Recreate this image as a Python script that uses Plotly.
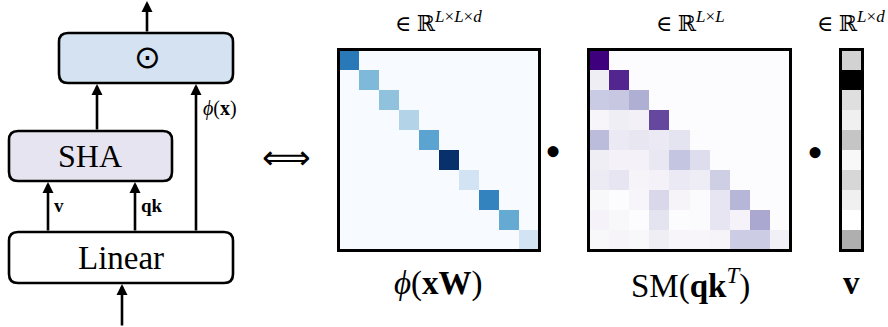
import plotly.graph_objects as go
import plotly.colors as pc

# ---------------- data ----------------
phi_diag = [0.72, 0.45, 0.41, 0.31, 0.55, 1.0, 0.19, 0.68, 0.52, 0.19]
attn_rows = [
    [1.00],
    [0.12, 0.88],
    [0.32, 0.33, 0.43],
    [0.05, 0.12, 0.09, 0.78],
    [0.38, 0.15, 0.17, 0.15, 0.19],
    [0.12, 0.08, 0.08, 0.16, 0.34, 0.23],
    [0.14, 0.18, 0.06, 0.08, 0.15, 0.13, 0.30],
    [0.04, 0.00, 0.05, 0.26, 0.06, 0.01, 0.18, 0.40],
    [0.07, 0.04, 0.00, 0.19, 0.00, 0.01, 0.18, 0.07, 0.45],
    [0.04, 0.06, 0.04, 0.12, 0.05, 0.05, 0.06, 0.31, 0.31, 0.10],
]
v_vals = [0.28, 1.0, 0.22, 0.125, 0.34, 0.06, 0.26, 0.125, 0.0, 0.42]

SUP = '<sup><span style="font-size:17px">{}</span></sup>'
top_labels = ["∈ ℝ" + SUP.format("<i>L</i>×<i>L</i>×<i>d</i>"),
              "∈ ℝ" + SUP.format("<i>L</i>×<i>L</i>"),
              "∈ ℝ" + SUP.format("<i>L</i>×<i>d</i>")]
bottom_labels = ["<i>ϕ</i>(<b>xW</b>)", "SM(<b>qk</b><sup><i>T</i></sup>)", "<b>v</b>"]

# ---------------- build matrices ----------------
L = len(phi_diag)
phi_z = [[phi_diag[i] if i == j else 0.0 for j in range(L)] for i in range(L)]
attn_z = [row + [0.0] * (L - len(row)) for row in attn_rows]
v_z = [[v] for v in v_vals]

W, H = 888, 327
SERIF = "Liberation Serif, DejaVu Serif, serif"

def cs(seq):
    n = len(seq)
    return [[i / (n - 1), c] for i, c in enumerate(seq)]

fig = go.Figure()

panels = [
    (339, 539, phi_z, cs(pc.sequential.Blues), "x2", "y2"),
    (589, 790, attn_z, cs(pc.sequential.Purples), "x3", "y3"),
    (841, 862, v_z, cs(pc.sequential.Greys), "x4", "y4"),
]
ytop, ybot = 50, 250

fig.add_trace(go.Scatter(x=[0], y=[0], mode="markers", marker=dict(opacity=0),
                         hoverinfo="skip", showlegend=False, xaxis="x", yaxis="y"))

layout_axes = dict(
    xaxis=dict(domain=[0, 1], range=[0, W], visible=False, fixedrange=True),
    yaxis=dict(domain=[0, 1], range=[H, 0], visible=False, fixedrange=True),
)
for k, (x0, x1, z, colorscale, xa, ya) in enumerate(panels):
    ncol = len(z[0])
    fig.add_trace(go.Heatmap(z=z, x=list(range(ncol)), y=list(range(len(z))),
                             colorscale=colorscale, zmin=0, zmax=1, showscale=False,
                             hoverinfo="skip", xaxis=xa, yaxis=ya))
    n = k + 2
    layout_axes[f"xaxis{n}"] = dict(domain=[x0 / W, x1 / W], range=[-0.5, ncol - 0.5],
                                   visible=False, fixedrange=True)
    layout_axes[f"yaxis{n}"] = dict(domain=[1 - ybot / H, 1 - ytop / H], range=[len(z) - 0.5, -0.5],
                                   visible=False, fixedrange=True)

shapes = []
annotations = []

for (x0, x1, *_rest) in panels:
    shapes.append(dict(type="rect", xref="x", yref="y", x0=x0 - 0.5, x1=x1 + 0.5,
                       y0=ytop - 0.5, y1=ybot + 0.5, line=dict(color="black", width=3),
                       layer="above"))

def rrect(x0, y0, x1, y1, r, fill):
    p = (f"M{x0 + r},{y0} L{x1 - r},{y0} Q{x1},{y0} {x1},{y0 + r} "
         f"L{x1},{y1 - r} Q{x1},{y1} {x1 - r},{y1} L{x0 + r},{y1} "
         f"Q{x0},{y1} {x0},{y1 - r} L{x0},{y0 + r} Q{x0},{y0} {x0 + r},{y0} Z")
    return dict(type="path", xref="x", yref="y", path=p, fillcolor=fill,
                line=dict(color="black", width=2.6), layer="above")

shapes.append(rrect(59, 33, 233, 83, 9, "#d4e2f1"))
shapes.append(rrect(9, 131, 172, 181, 9, "#e6e4f0"))
shapes.append(rrect(9, 232, 233, 283, 9, "white"))

def arrow(x, y_from, y_to):
    annotations.append(dict(x=x, y=y_to, ax=x, ay=y_from, xref="x", yref="y",
                            axref="x", ayref="y", showarrow=True, arrowhead=2,
                            arrowsize=0.85, arrowwidth=2.6, arrowcolor="black",
                            standoff=0, startstandoff=0, text=""))

arrow(147, 33, 1)
arrow(97, 131, 84)
arrow(196, 232, 84)
arrow(48, 232, 182)
arrow(135, 232, 182)
arrow(122, 327, 284)

def text(x, y, s, size, family=SERIF, xanchor="center"):
    annotations.append(dict(x=x, y=y, xref="x", yref="y", text=s, showarrow=False,
                            xanchor=xanchor, yanchor="middle",
                            font=dict(family=family, size=size, color="black")))

text(147, 57, "⊙", 32, family="DejaVu Sans")
text(90, 156, "SHA", 32)
text(121, 258, "Linear", 33)
text(52, 205, "<b>v</b>", 19, xanchor="left")
text(139, 205, "<b>qk</b>", 19, xanchor="left")
text(201, 108, "<i>ϕ</i>(<b>x</b>)", 20, xanchor="left")
text(286, 157, "⟺", 34, family="DejaVu Sans")

label_x = [438, 690, 851]
for c, s in zip(label_x, top_labels):
    text(c, 21, s, 22)
for c, s in zip(label_x, bottom_labels):
    text(c, 283, s, 33)

text(553, 151, "•", 46)
text(815, 152, "•", 46)

fig.update_layout(width=W, height=H, margin=dict(l=0, r=0, t=0, b=0),
                  paper_bgcolor="white", plot_bgcolor="rgba(0,0,0,0)",
                  showlegend=False, shapes=shapes, annotations=annotations,
                  **layout_axes)

fig.write_html("out.html", config={"displayModeBar": False},
               post_script="document.body.style.margin='0px';document.body.style.overflow='hidden';")
